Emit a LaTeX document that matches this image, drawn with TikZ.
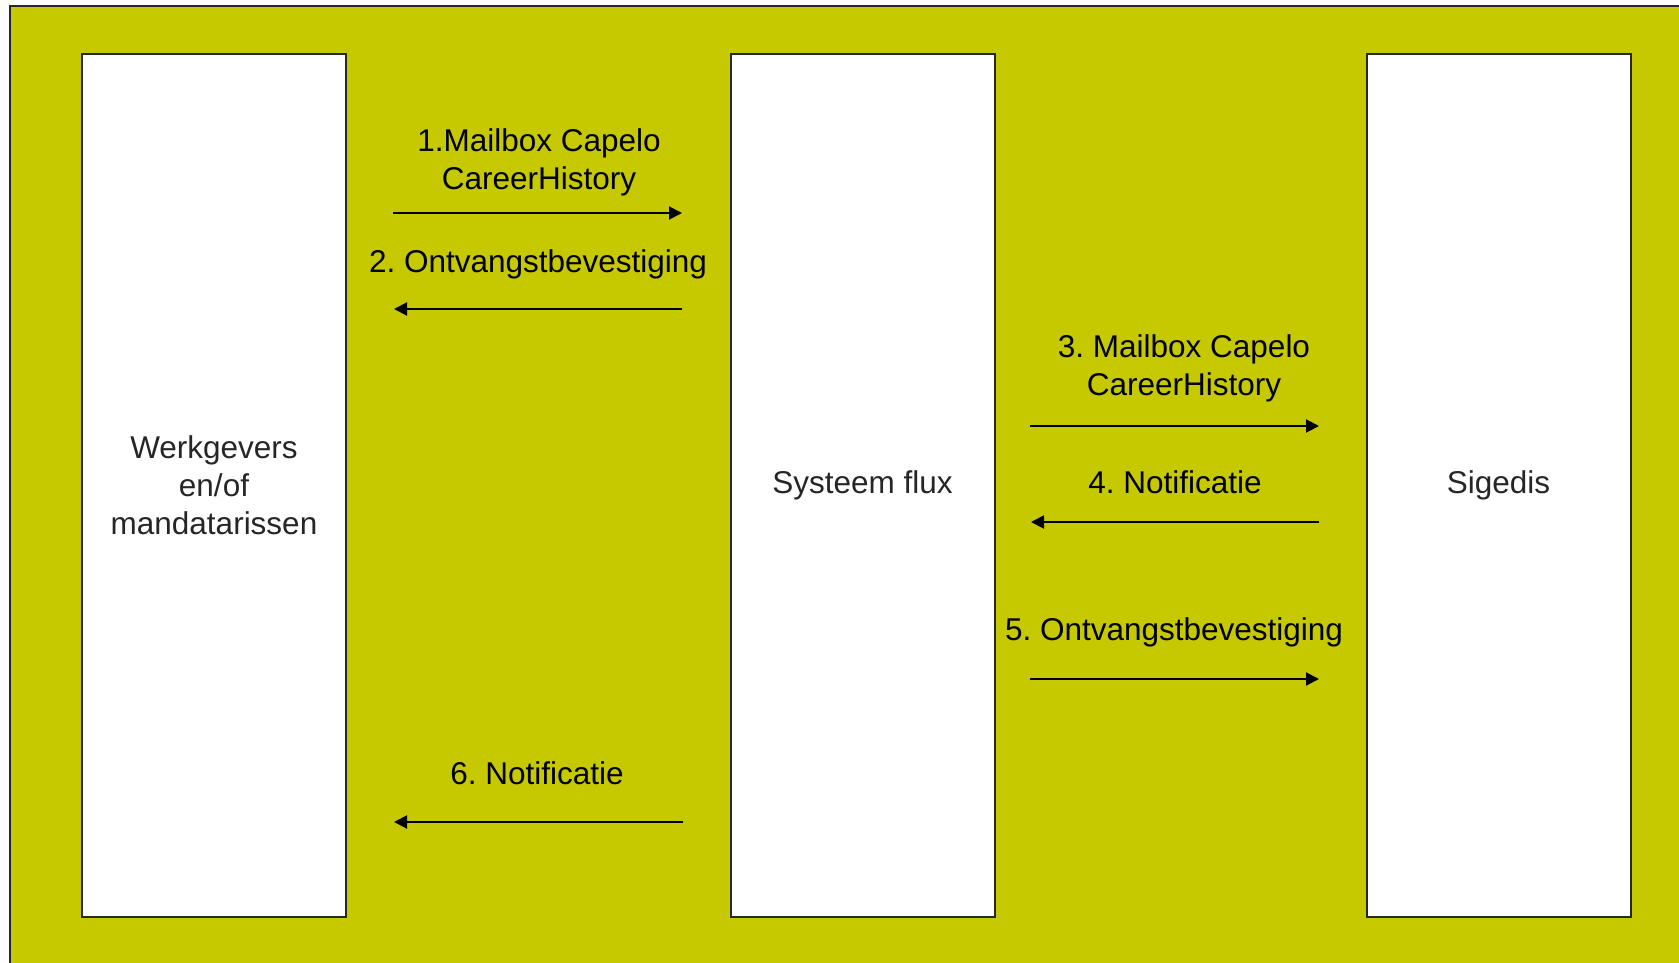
\documentclass[tikz,border=0pt]{standalone}
\usepackage{fontspec}
\setmainfont{Liberation Sans}
\usetikzlibrary{arrows.meta}
\frenchspacing
\definecolor{bgyellow}{RGB}{198,201,0}
\definecolor{edge}{RGB}{40,40,40}
\tikzset{
  lane/.style={draw=edge, line width=2bp, fill=white, minimum width=264bp, minimum height=863bp,
    inner sep=0pt, align=center, text=black!85, font=\fontsize{31.5bp}{38bp}\selectfont},
  lbl/.style={anchor=base, inner sep=0pt, text=black, font=\fontsize{31.5bp}{38bp}\selectfont},
  msg/.style={line width=2bp, -{Triangle[length=13bp,width=13bp]}}
}
\begin{document}
\begin{tikzpicture}[x=1bp,y=-1bp]
\useasboundingbox (0,0) rectangle (1679,962);
\begin{scope}
\clip (0,0) rectangle (1679,962);
\draw[draw=edge, line width=2bp, fill=bgyellow] (10,6) rectangle (1700,990);
\end{scope}
\node[lane] (w) at (214,485.5) {Werkgevers\\en/of\\mandatarissen};
\node[lane] (s) at (862.5,485.5) {Systeem flux};
\node[lane] (g) at (1498.5,485.5) {Sigedis};
% arrow end points
\coordinate (a1s) at (393,213); \coordinate (a1e) at (682,213);
\coordinate (a2s) at (682,309); \coordinate (a2e) at (394,309);
\coordinate (a3s) at (1030,426); \coordinate (a3e) at (1319,426);
\coordinate (a4s) at (1319,522); \coordinate (a4e) at (1031,522);
\coordinate (a5s) at (1030,679); \coordinate (a5e) at (1319,679);
\coordinate (a6s) at (683,822); \coordinate (a6e) at (394,822);
\draw[msg] (a1s) -- (a1e);
\draw[msg] (a2s) -- (a2e);
\draw[msg] (a3s) -- (a3e);
\draw[msg] (a4s) -- (a4e);
\draw[msg] (a5s) -- (a5e);
\draw[msg] (a6s) -- (a6e);
% labels
\node[lbl] (l1a) at (539,151) {1.Mailbox Capelo};
\node[lbl] (l1b) at (539,189) {CareerHistory};
\node[lbl] (l2) at (538,272.5) {2. Ontvangstbevestiging};
\node[lbl] (l3a) at (1184,357) {3. Mailbox Capelo};
\node[lbl] (l3b) at (1184,395) {CareerHistory};
\node[lbl] (l4) at (1175,493) {4. Notificatie};
\node[lbl] (l5) at (1174,640) {5. Ontvangstbevestiging};
\node[lbl] (l6) at (537,784) {6. Notificatie};
\end{tikzpicture}
\end{document}
